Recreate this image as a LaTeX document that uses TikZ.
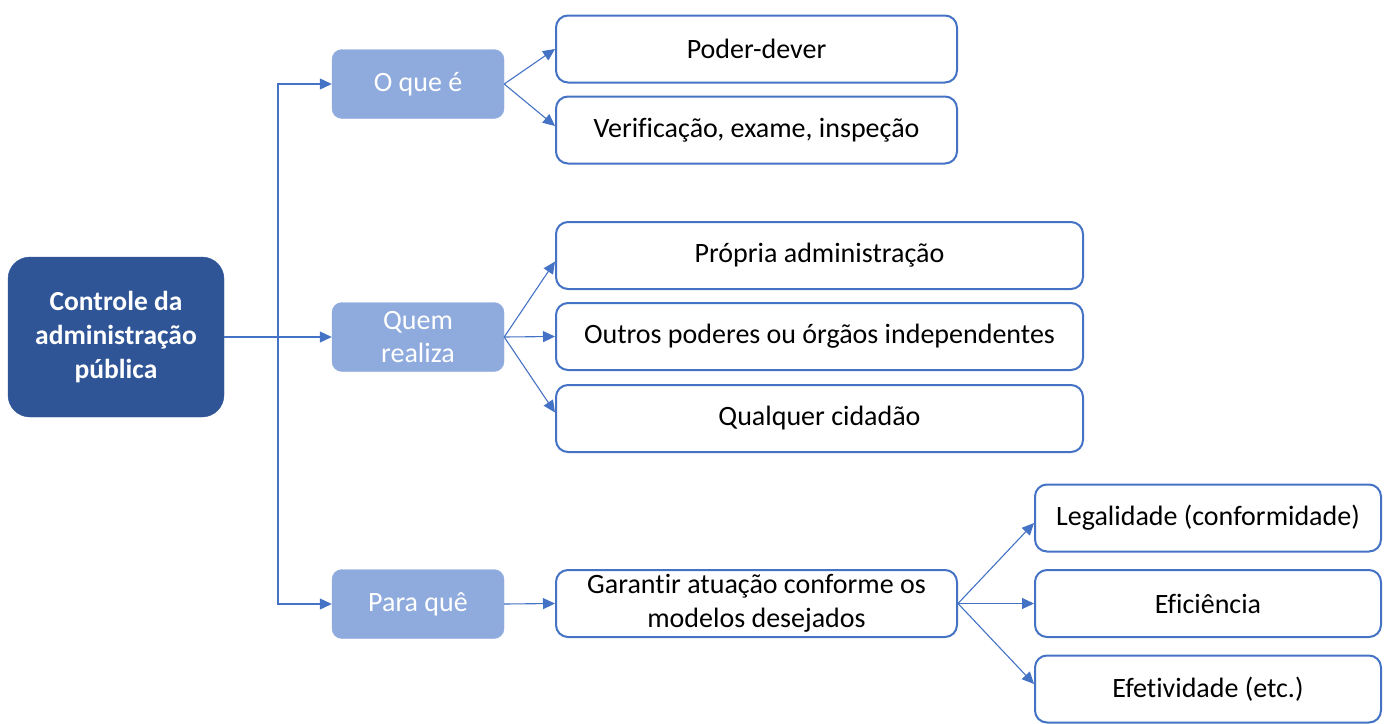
\documentclass[tikz,border=0pt]{standalone}
\usepackage{fontspec}
\setmainfont{Carlito}[Ligatures=NoCommon]
\usetikzlibrary{arrows.meta}
\definecolor{darkblue}{HTML}{2F5597}
\definecolor{lightblue}{HTML}{8FAADC}
\definecolor{edgeblue}{HTML}{4472C4}
\tikzset{
  mainbox/.style={fill=darkblue, draw=darkblue, rounded corners=22pt, text=white,
    font=\fontsize{27.5}{34}\selectfont\bfseries, align=center, minimum width=216pt, minimum height=160pt},
  qbox/.style={fill=lightblue, draw=lightblue, rounded corners=10pt, text=white,
    font=\fontsize{28}{33}\selectfont, align=center, minimum width=172pt, minimum height=69pt},
  abox/.style={fill=white, draw=edgeblue, line width=2pt, rounded corners=12pt,
    font=\fontsize{28}{34}\selectfont, align=center, minimum height=67pt},
  conn/.style={draw=edgeblue, line width=1.1pt, -{Triangle[length=12pt,width=11pt]}}
}
\begin{document}
\begin{tikzpicture}[x=1pt,y=-1pt]
\useasboundingbox (0,0) rectangle (1384,723);
% main box and questions
\node[mainbox] (ctrl) at (116,337) {Controle da\\administração\\pública};
\node[qbox] (oque) at (418,84) {O que é};
\node[qbox] (quem) at (418,337) {Quem\\realiza};
\node[qbox] (para) at (418,604) {Para quê};
% answers
\node[abox, minimum width=401pt] (poder) at (756.5,49) {Poder-dever};
\node[abox, minimum width=401pt] (verif) at (756.5,130) {Verificação, exame, inspeção};
\node[abox, minimum width=527pt] (propria) at (819.5,255.5) {Própria administração};
\node[abox, minimum width=527pt] (outros) at (819.5,336.5) {Outros poderes ou órgãos independentes};
\node[abox, minimum width=527pt] (qualquer) at (819.5,418.5) {Qualquer cidadão};
\node[abox, minimum width=401pt] (garantir) at (756.5,603.5) {Garantir atuação conforme os\\modelos desejados};
\node[abox, minimum width=346pt] (legal) at (1208,518) {Legalidade (conformidade)};
\node[abox, minimum width=346pt] (efic) at (1208,603.5) {Eficiência};
\node[abox, minimum width=346pt] (efet) at (1208,689) {Efetividade (etc.)};
% connectors
\coordinate (jn) at (278,337);
\draw[conn] (ctrl.east) -- (quem.west);
\draw[conn] (jn) |- (oque.west);
\draw[conn] (jn) |- (para.west);
\draw[conn] (oque.east) -- (poder.west);
\draw[conn] (oque.east) -- ([yshift=4pt]verif.west);
\draw[conn] (quem.east) -- ([yshift=-6pt]propria.west);
\draw[conn] (quem.east) -- (outros.west);
\draw[conn] (quem.east) -- ([yshift=6pt]qualquer.west);
\draw[conn] (para.east) -- (garantir.west);
\draw[conn] (garantir.east) -- ([yshift=-5pt]legal.west);
\draw[conn] (garantir.east) -- (efic.west);
\draw[conn] (garantir.east) -- ([yshift=5pt]efet.west);
\end{tikzpicture}
\end{document}
